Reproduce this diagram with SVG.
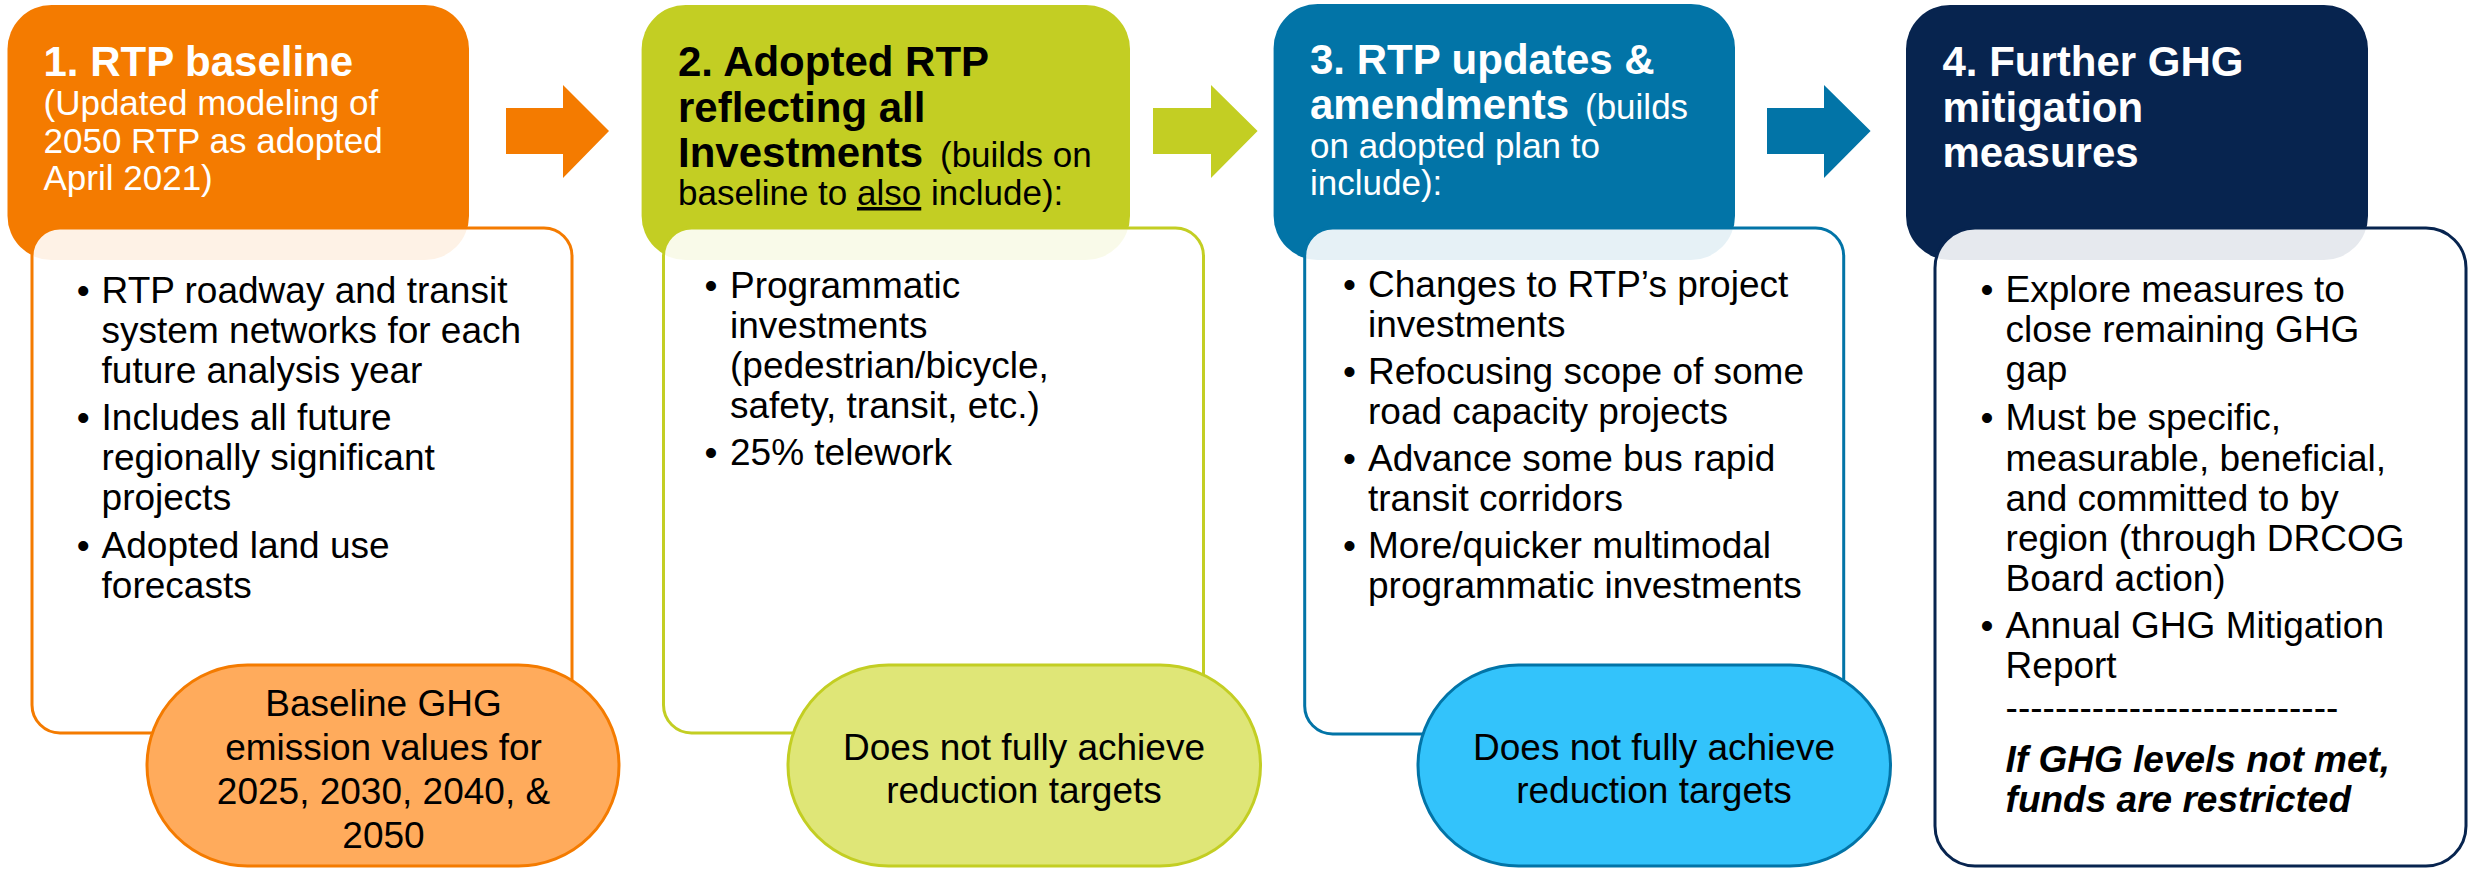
<svg xmlns="http://www.w3.org/2000/svg" width="2469" height="870" viewBox="0 0 2469 870">
<style>
text{font-family:"Liberation Sans",Arial,Helvetica,sans-serif}
.ttl{font-size:42px;font-weight:bold}
.sub{font-size:35px;font-weight:normal}
.bd{font-size:37px;fill:#000}
.ov{font-size:37px;fill:#000;text-anchor:middle}
.w{fill:#fff}
.k{fill:#000}
.box{fill:#fff;fill-opacity:0.9;stroke-width:3}
.pill{stroke-width:3}
</style>
<rect width="2469" height="870" fill="#fff"/>

<g id="connectors">
<path id="arrow1" d="M506,108 H563 V85 L609,131 L563,178 V154 H506 Z" fill="#F47B00"/>
<path id="arrow2" d="M1153,108 H1211 V85 L1257.6,131 L1211,178 V154 H1153 Z" fill="#C3CE23"/>
<path id="arrow3" d="M1767,108 H1824 V85 L1870.6,131 L1824,178 V154 H1767 Z" fill="#0274A7"/>
</g>

<g id="node1">
<rect x="7.5" y="5" width="461.5" height="255" rx="44" fill="#F47B00"/>
<rect class="box" x="32" y="228" width="540" height="505" rx="28" stroke="#F47B00"/>
<text class="ttl w" x="43.5" y="76">1. RTP baseline</text>
<text class="sub w" x="43.5" y="115">(Updated modeling of</text>
<text class="sub w" x="43.5" y="153">2050 RTP as adopted</text>
<text class="sub w" x="43.5" y="190">April 2021)</text>
<text class="bd" x="76.8" y="303">•</text>
<text class="bd" x="101.6" y="303">RTP roadway and transit</text>
<text class="bd" x="101.6" y="343">system networks for each</text>
<text class="bd" x="101.6" y="383">future analysis year</text>
<text class="bd" x="76.8" y="430">•</text>
<text class="bd" x="101.6" y="430">Includes all future</text>
<text class="bd" x="101.6" y="470">regionally significant</text>
<text class="bd" x="101.6" y="510">projects</text>
<text class="bd" x="76.8" y="558">•</text>
<text class="bd" x="101.6" y="558">Adopted land use</text>
<text class="bd" x="101.6" y="598">forecasts</text>
<rect class="pill" x="147" y="665" width="472" height="201" rx="100.5" fill="#FFAB5C" stroke="#F47B00"/>
<text class="ov" x="383.5" y="716">Baseline GHG</text>
<text class="ov" x="383.5" y="760">emission values for</text>
<text class="ov" x="383.5" y="804">2025, 2030, 2040, &amp;</text>
<text class="ov" x="383.5" y="848">2050</text>
</g>

<g id="node2">
<rect x="641.6" y="5" width="488.4" height="255" rx="44" fill="#C3CE23"/>
<rect class="box" x="663.5" y="228" width="540" height="505" rx="28" stroke="#C3CE23"/>
<text class="ttl k" x="678" y="76">2. Adopted RTP</text>
<text class="ttl k" x="678" y="122">reflecting all</text>
<text class="ttl k" x="678" y="167">Investments<tspan class="sub" x="940">(builds on</tspan></text>
<text class="sub k" x="678" y="205">baseline to <tspan text-decoration="underline">also</tspan> include):</text>
<text class="bd" x="704.5" y="298">•</text>
<text class="bd" x="730" y="298">Programmatic</text>
<text class="bd" x="730" y="338">investments</text>
<text class="bd" x="730" y="378">(pedestrian/bicycle,</text>
<text class="bd" x="730" y="418">safety, transit, etc.)</text>
<text class="bd" x="704.5" y="465">•</text>
<text class="bd" x="730" y="465">25% telework</text>
<rect class="pill" x="788" y="665" width="472.5" height="201" rx="100.5" fill="#DFE677" stroke="#C3CE23"/>
<text class="ov" x="1024" y="760">Does not fully achieve</text>
<text class="ov" x="1024" y="803">reduction targets</text>
</g>

<g id="node3">
<rect x="1273.6" y="4" width="461.4" height="256" rx="44" fill="#0274A7"/>
<rect class="box" x="1304.7" y="228" width="539" height="506" rx="28" stroke="#0274A7"/>
<text class="ttl w" x="1310" y="74">3. RTP updates &amp;</text>
<text class="ttl w" x="1310" y="119">amendments<tspan class="sub" x="1585">(builds</tspan></text>
<text class="sub w" x="1310" y="158">on adopted plan to</text>
<text class="sub w" x="1310" y="195">include):</text>
<text class="bd" x="1343" y="297">•</text>
<text class="bd" x="1368" y="297">Changes to RTP’s project</text>
<text class="bd" x="1368" y="337">investments</text>
<text class="bd" x="1343" y="384">•</text>
<text class="bd" x="1368" y="384">Refocusing scope of some</text>
<text class="bd" x="1368" y="424">road capacity projects</text>
<text class="bd" x="1343" y="471">•</text>
<text class="bd" x="1368" y="471">Advance some bus rapid</text>
<text class="bd" x="1368" y="511">transit corridors</text>
<text class="bd" x="1343" y="558">•</text>
<text class="bd" x="1368" y="558">More/quicker multimodal</text>
<text class="bd" x="1368" y="598">programmatic investments</text>
<rect class="pill" x="1418" y="665" width="472.5" height="201" rx="100.5" fill="#33C3FB" stroke="#0274A7"/>
<text class="ov" x="1654" y="760">Does not fully achieve</text>
<text class="ov" x="1654" y="803">reduction targets</text>
</g>

<g id="node4">
<rect x="1906" y="5" width="462" height="255" rx="44" fill="#07244F"/>
<rect class="box" x="1935" y="228" width="531" height="638" rx="40" stroke="#07244F"/>
<text class="ttl w" x="1942.5" y="76">4. Further GHG</text>
<text class="ttl w" x="1942.5" y="122">mitigation</text>
<text class="ttl w" x="1942.5" y="167">measures</text>
<text class="bd" x="1980.4" y="302">•</text>
<text class="bd" x="2005.6" y="302">Explore measures to</text>
<text class="bd" x="2005.6" y="342">close remaining GHG</text>
<text class="bd" x="2005.6" y="382">gap</text>
<text class="bd" x="1980.4" y="430">•</text>
<text class="bd" x="2005.6" y="430">Must be specific,</text>
<text class="bd" x="2005.6" y="471">measurable, beneficial,</text>
<text class="bd" x="2005.6" y="511">and committed to by</text>
<text class="bd" x="2005.6" y="551">region (through DRCOG</text>
<text class="bd" x="2005.6" y="591">Board action)</text>
<text class="bd" x="1980.4" y="638">•</text>
<text class="bd" x="2005.6" y="638">Annual GHG Mitigation</text>
<text class="bd" x="2005.6" y="678">Report</text>
<text class="bd" x="2005.6" y="720">---------------------------</text>
<text class="bd" x="2005.6" y="772" font-weight="bold" font-style="italic">If GHG levels not met,</text>
<text class="bd" x="2005.6" y="812" font-weight="bold" font-style="italic">funds are restricted</text>
</g>
</svg>
